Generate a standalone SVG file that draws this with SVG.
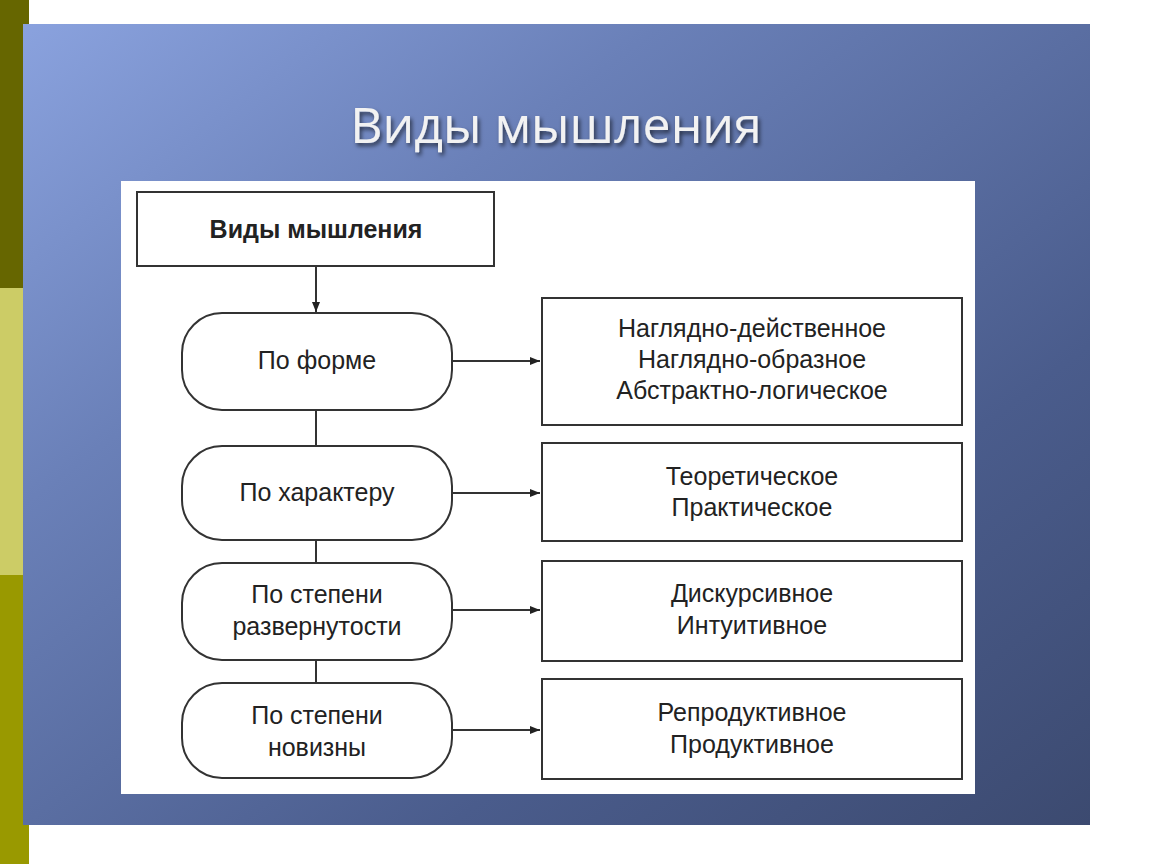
<svg xmlns="http://www.w3.org/2000/svg" width="1150" height="864" viewBox="0 0 1150 864">
<defs>
<linearGradient id="bg" x1="0" y1="0" x2="1" y2="1">
<stop offset="0" stop-color="#8aa2de"/><stop offset="0.3" stop-color="#6a80b8"/><stop offset="0.7" stop-color="#4a5c8c"/><stop offset="1" stop-color="#3c4a70"/>
</linearGradient>
<marker id="ah" viewBox="0 0 10 10" refX="10" refY="5" markerWidth="10" markerHeight="10" markerUnits="userSpaceOnUse" orient="auto"><path d="M0,1 L10,5 L0,9 Z" fill="#222"/></marker>
<filter id="sh"><feDropShadow dx="2" dy="3" stdDeviation="2" flood-color="#000" flood-opacity="0.6"/></filter>
</defs>
<style>
.n{fill:#fff;stroke:#333;stroke-width:2}
.t{font-family:"Liberation Sans",Arial,sans-serif;font-size:25px;fill:#222;text-anchor:middle}
.c{stroke:#333;stroke-width:2;fill:none}
</style>
<rect width="1150" height="864" fill="#fff"/>
<rect x="0" y="0" width="29" height="288" fill="#666600"/>
<rect x="0" y="288" width="29" height="287" fill="#cccc66"/>
<rect x="0" y="575" width="29" height="289" fill="#999900"/>
<rect x="23" y="24" width="1067" height="801" fill="url(#bg)"/>
<text x="556" y="143" font-family="'Open Sans','Liberation Sans',sans-serif" font-size="50" fill="#f2f2f2" text-anchor="middle" filter="url(#sh)">Виды мышления</text>
<rect x="121" y="181" width="854" height="613" fill="#fff"/>
<g id="connectors">
<line class="c" x1="316" y1="266" x2="316" y2="312" marker-end="url(#ah)"/>
<line class="c" x1="316" y1="410" x2="316" y2="683"/>
<line class="c" x1="452" y1="361" x2="540" y2="361" marker-end="url(#ah)"/>
<line class="c" x1="452" y1="493" x2="540" y2="493" marker-end="url(#ah)"/>
<line class="c" x1="452" y1="610" x2="540" y2="610" marker-end="url(#ah)"/>
<line class="c" x1="452" y1="730" x2="540" y2="730" marker-end="url(#ah)"/>
</g>
<g id="root"><rect class="n" x="137" y="192" width="357" height="74"/><text class="t" x="316" y="238" font-weight="bold">Виды мышления</text></g>
<g id="p1"><rect class="n" x="182" y="313" width="270" height="97" rx="40"/><text class="t" x="317" y="369">По форме</text></g>
<g id="p2"><rect class="n" x="182" y="446" width="270" height="94" rx="40"/><text class="t" x="317" y="501">По характеру</text></g>
<g id="p3"><rect class="n" x="182" y="563" width="270" height="97" rx="40"/><text class="t" x="317" y="603">По степени</text><text class="t" x="317" y="635">развернутости</text></g>
<g id="p4"><rect class="n" x="182" y="683" width="270" height="95" rx="40"/><text class="t" x="317" y="724">По степени</text><text class="t" x="317" y="756">новизны</text></g>
<g id="r1"><rect class="n" x="542" y="298" width="420" height="127"/><text class="t" x="752" y="337">Наглядно-действенное</text><text class="t" x="752" y="368">Наглядно-образное</text><text class="t" x="752" y="399">Абстрактно-логическое</text></g>
<g id="r2"><rect class="n" x="542" y="443" width="420" height="98"/><text class="t" x="752" y="485">Теоретическое</text><text class="t" x="752" y="516">Практическое</text></g>
<g id="r3"><rect class="n" x="542" y="561" width="420" height="100"/><text class="t" x="752" y="602">Дискурсивное</text><text class="t" x="752" y="634">Интуитивное</text></g>
<g id="r4"><rect class="n" x="542" y="679" width="420" height="100"/><text class="t" x="752" y="721">Репродуктивное</text><text class="t" x="752" y="753">Продуктивное</text></g>
</svg>
